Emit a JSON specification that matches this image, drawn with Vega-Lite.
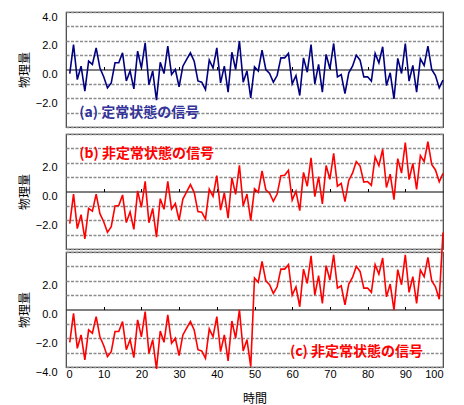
{
  "$schema": "https://vega.github.io/schema/vega-lite/v6.json",
  "padding": {"left": 17, "top": 10, "right": 5, "bottom": 0},
  "bounds": "flush",
  "config": {
    "view": {"stroke": "#404040", "strokeWidth": 1.2},
    "axis": {"labelFont": "Liberation Sans", "labelFontSize": 11, "labelColor": "#000", "titleFont": "Noto Sans CJK JP", "titleFontSize": 12, "titleFontWeight": "normal", "titleColor": "#000"}
  },
  "datasets": {
    "sig": [
      {"x":1,"a":-0.28,"b":-2.24,"c":-2.28},
      {"x":2,"a":1.74,"b":-0.18,"c":-0.26},
      {"x":3,"a":-0.70,"b":-2.58,"c":-2.70},
      {"x":4,"a":0.23,"b":-1.61,"c":-1.77},
      {"x":5,"a":-1.50,"b":-3.30,"c":-3.50},
      {"x":6,"a":0.58,"b":-1.18,"c":-1.42},
      {"x":7,"a":0.35,"b":-1.37,"c":-1.65},
      {"x":8,"a":1.50,"b":-0.18,"c":-0.50},
      {"x":9,"a":0.10,"b":-1.54,"c":-1.90},
      {"x":10,"a":-0.50,"b":-2.10,"c":-2.50},
      {"x":11,"a":-1.28,"b":-2.84,"c":-3.28},
      {"x":12,"a":-0.93,"b":-2.45,"c":-2.93},
      {"x":13,"a":0.47,"b":-1.01,"c":-1.53},
      {"x":14,"a":0.47,"b":-0.97,"c":-1.53},
      {"x":15,"a":1.16,"b":-0.24,"c":-0.84},
      {"x":16,"a":-0.80,"b":-2.16,"c":-2.80},
      {"x":17,"a":-0.10,"b":-1.42,"c":-2.10},
      {"x":18,"a":-1.35,"b":-2.63,"c":-3.35},
      {"x":19,"a":1.28,"b":0.04,"c":-0.72},
      {"x":20,"a":0.10,"b":-1.10,"c":-1.90},
      {"x":21,"a":1.86,"b":0.70,"c":-0.14},
      {"x":22,"a":-1.05,"b":-2.17,"c":-3.05},
      {"x":23,"a":-0.10,"b":-1.18,"c":-2.10},
      {"x":24,"a":-2.14,"b":-3.18,"c":-4.14},
      {"x":25,"a":0.50,"b":-0.50,"c":-1.50},
      {"x":26,"a":-0.28,"b":-1.24,"c":-2.28},
      {"x":27,"a":1.63,"b":0.71,"c":-0.37},
      {"x":28,"a":-0.35,"b":-1.23,"c":-2.35},
      {"x":29,"a":0.00,"b":-0.84,"c":-2.00},
      {"x":30,"a":-1.20,"b":-2.00,"c":-3.20},
      {"x":31,"a":0.23,"b":-0.53,"c":-1.77},
      {"x":32,"a":0.70,"b":-0.02,"c":-1.30},
      {"x":33,"a":1.16,"b":0.48,"c":-0.84},
      {"x":34,"a":0.58,"b":-0.06,"c":-1.42},
      {"x":35,"a":-0.80,"b":-1.40,"c":-2.80},
      {"x":36,"a":-0.88,"b":-1.44,"c":-2.88},
      {"x":37,"a":-1.40,"b":-1.92,"c":-3.40},
      {"x":38,"a":0.65,"b":0.17,"c":-1.35},
      {"x":39,"a":0.10,"b":-0.34,"c":-1.90},
      {"x":40,"a":1.50,"b":1.10,"c":-0.50},
      {"x":41,"a":-0.93,"b":-1.29,"c":-2.93},
      {"x":42,"a":0.23,"b":-0.09,"c":-1.77},
      {"x":43,"a":-1.58,"b":-1.86,"c":-3.58},
      {"x":44,"a":1.20,"b":0.96,"c":-0.80},
      {"x":45,"a":0.00,"b":-0.20,"c":-2.00},
      {"x":46,"a":1.98,"b":1.82,"c":-0.02},
      {"x":47,"a":-0.88,"b":-1.00,"c":-2.88},
      {"x":48,"a":-0.10,"b":-0.18,"c":-2.10},
      {"x":49,"a":-1.98,"b":-2.02,"c":-3.98},
      {"x":50,"a":0.19,"b":0.19,"c":2.19},
      {"x":51,"a":-0.10,"b":-0.06,"c":1.90},
      {"x":52,"a":1.35,"b":1.43,"c":3.35},
      {"x":53,"a":0.00,"b":0.12,"c":2.00},
      {"x":54,"a":-0.28,"b":-0.12,"c":1.72},
      {"x":55,"a":-0.88,"b":-0.68,"c":1.12},
      {"x":56,"a":-0.42,"b":-0.18,"c":1.58},
      {"x":57,"a":0.81,"b":1.09,"c":2.81},
      {"x":58,"a":0.81,"b":1.13,"c":2.81},
      {"x":59,"a":1.12,"b":1.48,"c":3.12},
      {"x":60,"a":-1.00,"b":-0.60,"c":1.00},
      {"x":61,"a":-0.42,"b":0.02,"c":1.58},
      {"x":62,"a":-1.81,"b":-1.33,"c":0.19},
      {"x":63,"a":0.81,"b":1.33,"c":2.81},
      {"x":64,"a":-0.19,"b":0.37,"c":1.81},
      {"x":65,"a":1.74,"b":2.34,"c":3.74},
      {"x":66,"a":-1.00,"b":-0.36,"c":1.00},
      {"x":67,"a":0.35,"b":1.03,"c":2.35},
      {"x":68,"a":-1.58,"b":-0.86,"c":0.42},
      {"x":69,"a":1.05,"b":1.81,"c":3.05},
      {"x":70,"a":0.05,"b":0.85,"c":2.05},
      {"x":71,"a":1.81,"b":2.65,"c":3.81},
      {"x":72,"a":-0.51,"b":0.37,"c":1.49},
      {"x":73,"a":-0.35,"b":0.57,"c":1.65},
      {"x":74,"a":-1.67,"b":-0.71,"c":0.33},
      {"x":75,"a":-0.23,"b":0.77,"c":1.77},
      {"x":76,"a":0.23,"b":1.27,"c":2.23},
      {"x":77,"a":1.00,"b":2.08,"c":3.00},
      {"x":78,"a":0.65,"b":1.77,"c":2.65},
      {"x":79,"a":-0.51,"b":0.65,"c":1.49},
      {"x":80,"a":-0.51,"b":0.69,"c":1.49},
      {"x":81,"a":-0.81,"b":0.43,"c":1.19},
      {"x":82,"a":1.12,"b":2.40,"c":3.12},
      {"x":83,"a":0.47,"b":1.79,"c":2.47},
      {"x":84,"a":1.58,"b":2.94,"c":3.58},
      {"x":85,"a":-1.12,"b":0.28,"c":0.88},
      {"x":86,"a":-0.23,"b":1.21,"c":1.77},
      {"x":87,"a":-2.05,"b":-0.57,"c":-0.05},
      {"x":88,"a":0.77,"b":2.29,"c":2.77},
      {"x":89,"a":-0.28,"b":1.28,"c":1.72},
      {"x":90,"a":1.81,"b":3.41,"c":3.81},
      {"x":91,"a":-0.81,"b":0.83,"c":1.19},
      {"x":92,"a":0.28,"b":1.96,"c":2.28},
      {"x":93,"a":-1.58,"b":0.14,"c":0.42},
      {"x":94,"a":0.74,"b":2.50,"c":2.74},
      {"x":95,"a":0.28,"b":2.08,"c":2.28},
      {"x":96,"a":1.63,"b":3.47,"c":3.63},
      {"x":97,"a":0.00,"b":1.88,"c":2.00},
      {"x":98,"a":-0.42,"b":1.50,"c":1.58},
      {"x":99,"a":-1.28,"b":0.68,"c":0.72},
      {"x":100,"a":-0.74,"b":1.26,"c":5.36}
    ]
  },
  "spacing": 7,
  "vconcat": [
    {
      "width": 377, "height": 115,
      "resolve": {"axis": {"x": "independent", "y": "independent"}},
      "layer": [
        {
          "data": {"name": "sig"},
          "mark": {"type": "line", "color": "#000080", "strokeWidth": 1.6, "clip": false},
          "encoding": {
            "x": {"field": "x", "type": "quantitative", "scale": {"domain": [0, 100], "nice": false},
              "axis": {"orient": "top", "offset": -57.5, "values": [10,20,30,40,50,60,70,80,90], "labels": false, "tickSize": 3, "tickColor": "#000", "domainColor": "#000", "domainWidth": 1, "grid": false, "title": null}},
            "y": {"field": "a", "type": "quantitative", "scale": {"domain": [-4, 4], "nice": false},
              "axis": {"values": [-4,-3,-2,-1,0,1,2,3,4], "ticks": false, "domain": false, "labelPadding": 9, "labelOffset": 5, "title": "物理量", "titlePadding": 4,
                "labelExpr": "(datum.value==4||datum.value==2||datum.value==0||datum.value==-2) ? format(datum.value,'.1f') : ''",
                "grid": true, "gridColor": "#8c8c8c", "gridDash": [3, 1.5], "gridWidth": 1.3,
                "gridOpacity": {"condition": {"test": "datum.value == 0", "value": 0}, "value": 1}}}
          }
        },
        {
          "data": {"values": [{"x": 3.5, "y": -3.0, "t": "(a) 定常状態の信号"}]},
          "mark": {"type": "text", "align": "left", "baseline": "middle", "font": "Noto Sans CJK JP", "fontSize": 14, "fontWeight": "bold", "color": "#333399"},
          "encoding": {
            "x": {"field": "x", "type": "quantitative", "axis": null},
            "y": {"field": "y", "type": "quantitative", "axis": null},
            "text": {"field": "t"}
          }
        }
      ]
    },
    {
      "spacing": 3,
      "bounds": "flush",
      "vconcat": [
        {
          "width": 377, "height": 115,
          "resolve": {"axis": {"x": "independent", "y": "independent"}},
          "layer": [
            {
              "data": {"name": "sig"},
              "mark": {"type": "line", "color": "#ff0000", "strokeWidth": 1.6, "clip": false},
              "encoding": {
                "x": {"field": "x", "type": "quantitative", "scale": {"domain": [0, 100], "nice": false},
                  "axis": {"orient": "top", "offset": -57.5, "values": [10,20,30,40,50,60,70,80,90], "labels": false, "tickSize": 3, "tickColor": "#000", "domainColor": "#000", "domainWidth": 1, "grid": false, "title": null}},
                "y": {"field": "b", "type": "quantitative", "scale": {"domain": [-4, 4], "nice": false},
                  "axis": {"values": [-4,-3,-2,-1,0,1,2,3,4], "ticks": false, "domain": false, "labelPadding": 9, "labelOffset": 5, "title": "物理量", "titlePadding": 4,
                    "labelExpr": "(datum.value==2||datum.value==0||datum.value==-2) ? format(datum.value,'.1f') : ''",
                    "grid": true, "gridColor": "#8c8c8c", "gridDash": [3, 1.5], "gridWidth": 1.3,
                    "gridOpacity": {"condition": {"test": "datum.value == 0", "value": 0}, "value": 1}}}
              }
            },
            {
              "data": {"values": [{"x": 3.5, "y": 2.64, "t": "(b) 非定常状態の信号"}]},
              "mark": {"type": "text", "align": "left", "baseline": "middle", "font": "Noto Sans CJK JP", "fontSize": 14, "fontWeight": "bold", "color": "#ff0000"},
              "encoding": {
                "x": {"field": "x", "type": "quantitative", "axis": null},
                "y": {"field": "y", "type": "quantitative", "axis": null},
                "text": {"field": "t"}
              }
            }
          ]
        },
        {
          "width": 377, "height": 115,
          "resolve": {"axis": {"x": "independent", "y": "independent"}},
          "layer": [
            {
              "data": {"name": "sig"},
              "mark": {"type": "line", "color": "#ff0000", "strokeWidth": 1.6, "clip": false},
              "encoding": {
                "x": {"field": "x", "type": "quantitative", "scale": {"domain": [0, 100], "nice": false},
                  "axis": {"orient": "top", "offset": -57.5, "values": [10,20,30,40,50,60,70,80,90], "labels": false, "tickSize": 3, "tickColor": "#000", "domainColor": "#000", "domainWidth": 1, "grid": false, "title": null}},
                "y": {"field": "c", "type": "quantitative", "scale": {"domain": [-4, 4], "nice": false},
                  "axis": {"values": [-4,-3,-2,-1,0,1,2,3,4], "ticks": false, "domain": false, "labelPadding": 9, "labelOffset": 5, "title": "物理量", "titlePadding": 4,
                    "labelExpr": "(datum.value==2||datum.value==0||datum.value==-2||datum.value==-4) ? format(datum.value,'.1f') : ''",
                    "grid": true, "gridColor": "#8c8c8c", "gridDash": [3, 1.5], "gridWidth": 1.3,
                    "gridOpacity": {"condition": {"test": "datum.value == 0", "value": 0}, "value": 1}}}
              }
            },
            {
              "data": {"values": [{"x": 59.4, "y": -2.98, "t": "(c) 非定常状態の信号"}]},
              "mark": {"type": "text", "align": "left", "baseline": "middle", "font": "Noto Sans CJK JP", "fontSize": 14, "fontWeight": "bold", "color": "#ff0000"},
              "encoding": {
                "x": {"field": "x", "type": "quantitative",
                  "axis": {"orient": "bottom", "values": [0,10,20,30,40,50,60,70,80,90,100], "ticks": false, "domain": false, "labelPadding": 1, "title": "時間", "titlePadding": 14, "grid": false}},
                "y": {"field": "y", "type": "quantitative", "axis": null},
                "text": {"field": "t"}
              }
            }
          ]
        }
      ]
    }
  ]
}
